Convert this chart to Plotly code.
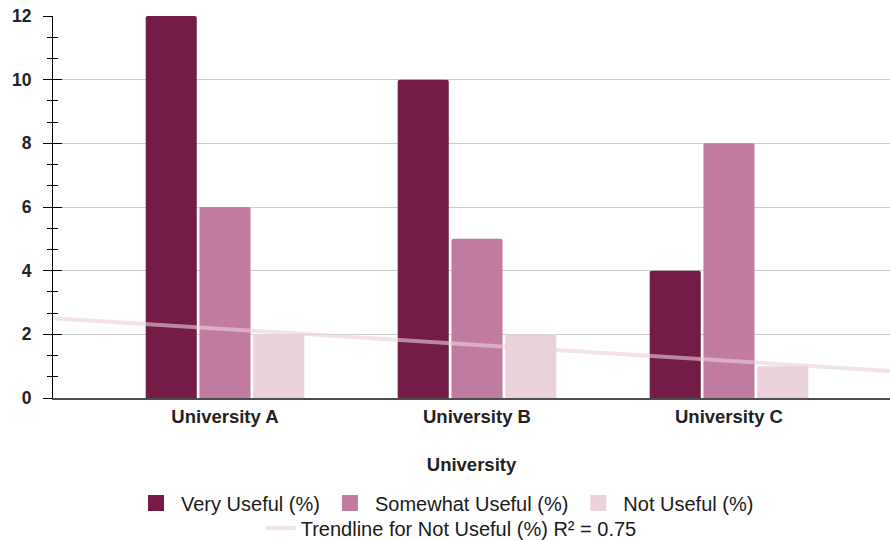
import numpy as np
import plotly.graph_objects as go

categories = ["University A", "University B", "University C"]
very_useful = [12, 10, 4]
somewhat_useful = [6, 5, 8]
not_useful = [2, 2, 1]
y_ticks = [0, 2, 4, 6, 8, 10, 12]
series_names = ["Very Useful (%)", "Somewhat Useful (%)", "Not Useful (%)"]

colors = ["#741b47", "#c27ba0", "#ead1dc"]
FONT = "Liberation Sans, Arial, sans-serif"

xpos = list(range(len(categories)))
x_range = [-0.6825, 2.639]

# linear trendline through Not Useful
slope, intercept = np.polyfit(xpos, not_useful, 1)
pred = np.polyval([slope, intercept], xpos)
ss_res = np.sum((np.array(not_useful) - pred) ** 2)
ss_tot = np.sum((np.array(not_useful) - np.mean(not_useful)) ** 2)
r2 = 1 - ss_res / ss_tot
tx = np.array(x_range)
ty = slope * tx + intercept

fig = go.Figure()
for name, vals, c in zip(series_names, [very_useful, somewhat_useful, not_useful], colors):
    fig.add_trace(go.Bar(x=xpos, y=vals, name=name, marker_color=c,
                         marker_line_width=0, showlegend=False))

fig.add_trace(go.Scatter(x=tx, y=ty, mode="lines", yaxis="y2",
                         name=f"Trendline for Not Useful (%) R² = {r2:.2f}",
                         line=dict(color="rgba(234,209,220,0.6)", width=4),
                         legend="legend2", hoverinfo="skip"))

# legend entries with larger square swatches
for name, c in zip(series_names, colors):
    fig.add_trace(go.Scatter(x=[None], y=[None], mode="markers", name=name,
                             marker=dict(symbol="square", size=16, color=c),
                             legend="legend", hoverinfo="skip"))

LABEL_FONT = dict(family=FONT, size=18.5, color="#222222", weight="bold")

fig.update_layout(
    width=890, height=540,
    margin=dict(l=53, r=0, t=16, b=142),
    paper_bgcolor="white", plot_bgcolor="white",
    font=dict(family=FONT, size=16, color="#222222"),
    barmode="group", bargap=0.36, bargroupgap=0.05, barcornerradius=2,
    xaxis=dict(range=x_range, tickmode="array", tickvals=xpos, ticktext=categories,
               showgrid=False, zeroline=False, showline=True, linecolor="#4d4d4d",
               linewidth=2, ticks="", ticklabelstandoff=1,
               tickfont=LABEL_FONT,
               title=dict(text="University", standoff=32, font=LABEL_FONT)),
    yaxis=dict(range=[0, 12], tickmode="array", tickvals=y_ticks,
               showgrid=True, gridcolor="#cccccc", gridwidth=1, zeroline=False,
               showline=True, linecolor="#000000", linewidth=1,
               ticks="outside", ticklen=9, tickcolor="#000000", tickwidth=1,
               ticklabelstandoff=8,
               minor=dict(dtick=2/3, ticks="outside", ticklen=5, tickcolor="#000000",
                          showgrid=False),
               tickfont=dict(family=FONT, size=17.5, color="#222222", weight="bold")),
    yaxis2=dict(range=[0, 12], overlaying="y", side="left", tickmode="array",
                tickvals=y_ticks, showticklabels=False, showgrid=False, zeroline=False,
                showline=False, ticks="inside", ticklen=9, tickcolor="#000000",
                minor=dict(dtick=2/3, ticks="inside", ticklen=5, tickcolor="#000000")),
    legend=dict(orientation="h", xref="container", yref="container",
                x=0.5, xanchor="center", y=1 - 503 / 540, yanchor="middle",
                font=dict(family=FONT, size=20, color="#1a1a1a"),
                bgcolor="rgba(0,0,0,0)", traceorder="normal", itemwidth=40),
    legend2=dict(orientation="h", xref="container", yref="container",
                 x=0.507, xanchor="center", y=1 - 528 / 540, yanchor="middle",
                 font=dict(family=FONT, size=20, color="#1a1a1a"),
                 bgcolor="rgba(0,0,0,0)", itemwidth=30),
    showlegend=True,
)

fig.write_html("out.html")
